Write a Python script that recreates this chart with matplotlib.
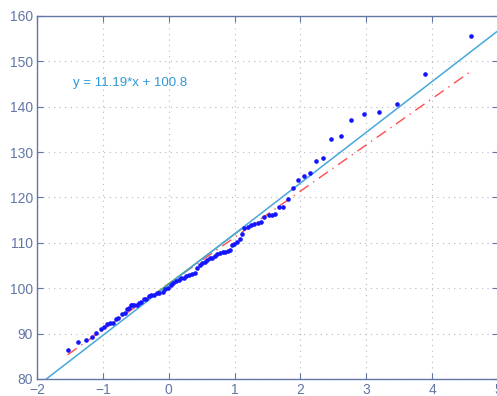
import matplotlib
matplotlib.use("Agg")
import matplotlib.pyplot as plt
import numpy as np

# Data points (x, y)
x_pts = [-1.535, -1.37, -1.26, -1.17, -1.10, -1.03, -0.98, -0.93, -0.89, -0.84,
         -0.80, -0.77, -0.71, -0.67, -0.64, -0.61, -0.58, -0.55, -0.52, -0.48,
         -0.45, -0.42, -0.37, -0.34, -0.30, -0.27, -0.23, -0.18, -0.14, -0.09,
         -0.05, -0.01, 0.03, 0.07, 0.11, 0.15, 0.19, 0.23, 0.27, 0.31,
         0.35, 0.40, 0.43, 0.47, 0.51, 0.55, 0.58, 0.62, 0.66, 0.70,
         0.74, 0.78, 0.82, 0.86, 0.90, 0.93, 0.955, 0.99, 1.04, 1.08,
         1.12, 1.15, 1.20, 1.25, 1.30, 1.35, 1.40, 1.44, 1.52, 1.57,
         1.62, 1.68, 1.74, 1.81, 1.88, 1.97, 2.05, 2.14, 2.24, 2.35,
         2.47, 2.62, 2.77, 2.96, 3.19, 3.47, 3.89, 4.59]
y_pts = [86.4, 88.1, 88.7, 89.3, 90.1, 91.0, 91.5, 92.1, 92.3, 92.3,
         93.2, 93.4, 94.3, 94.6, 95.5, 95.7, 96.3, 96.3, 96.3, 96.4,
         96.7, 97.0, 97.6, 97.6, 98.2, 98.5, 98.6, 98.9, 98.9, 99.1,
         99.8, 100.0, 100.7, 101.2, 101.5, 101.8, 102.2, 102.3, 102.7, 102.9,
         103.1, 103.4, 104.4, 105.1, 105.5, 105.8, 106.2, 106.6, 106.7, 107.0,
         107.5, 107.7, 107.9, 108.0, 108.3, 108.5, 109.5, 109.8, 110.1, 110.8,
         112.0, 113.3, 113.5, 114.0, 114.1, 114.3, 114.5, 115.8, 116.1, 116.2,
         116.3, 117.9, 118.0, 119.6, 122.0, 123.9, 124.8, 125.5, 128.1, 128.6,
         133.0, 133.6, 137.1, 138.3, 138.9, 140.6, 147.2, 155.7]

fit_slope, fit_icpt = 11.19, 100.8      # blue fit line
ref_slope, ref_icpt = 10.2, 101.0       # red dash-dot reference line
grn_slope, grn_icpt = 10.9, 101.0       # green short segment
grn_x = [-0.2, 1.1]
fit_label = "y = 11.19*x + 100.8"

xticks = [-2, -1, 0, 1, 2, 3, 4, 5]
yticks = [80, 90, 100, 110, 120, 130, 140, 150, 160]

axis_col = "#6276a6"
fig = plt.figure(figsize=(4.97, 3.96), dpi=100)
ax = fig.add_axes([37/497, 17/396, 461/497, 363/396])

xr = np.array([-2, 5], dtype=float)
xd = np.array([min(x_pts), max(x_pts)])
ax.plot(xd, ref_icpt + ref_slope*xd, color=(1.0, 0.3, 0.3), ls=(0, (8, 4, 1, 4)), lw=1.0, zorder=2)
gx = np.array(grn_x)
ax.plot(gx, grn_icpt + grn_slope*gx, color=(0.35, 0.65, 0.3), lw=1.0, zorder=2)
ax.plot(xr, fit_icpt + fit_slope*xr, color="#47a7da", lw=1.1, zorder=3)
ax.plot(x_pts, y_pts, ls="none", marker="o", ms=2.3, mfc="#1414ff", mec="#1414ff", zorder=4)

ax.text(-1.46, 145.2, fit_label, color="#2f97d6", fontsize=9.5, va="center", ha="left",
        family="Liberation Sans")

ax.set_xlim(-2, 5)
ax.set_ylim(80, 160)
ax.set_xticks(xticks)
ax.set_yticks(yticks)
ax.set_xticklabels([str(t).replace("-", "\u2212") for t in xticks])
ax.grid(True, ls=(0, (1, 4)), color="#b4b8c4", lw=0.8)
for s in ax.spines.values():
    s.set_color(axis_col)
    s.set_linewidth(1.0)
ax.tick_params(direction="in", length=4, width=0.8, color=axis_col, labelcolor=axis_col,
               labelsize=10, top=True, right=True, pad=3)
for lab in ax.get_xticklabels() + ax.get_yticklabels():
    lab.set_family("Liberation Sans")

fig.savefig("out.png", dpi=100)
